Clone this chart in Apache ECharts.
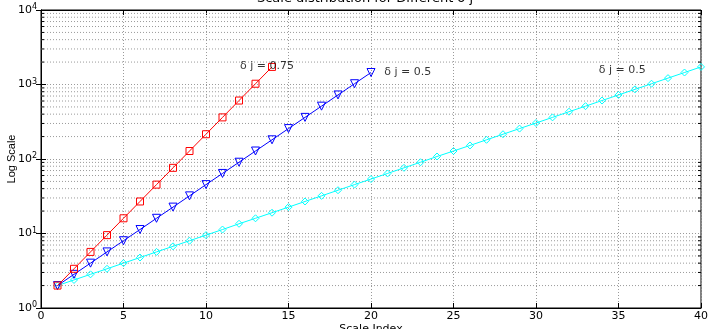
<!DOCTYPE html>
<html><head><meta charset="utf-8">
<script src="https://cdn.jsdelivr.net/npm/echarts@6/dist/echarts.min.js"></script>
<style>html,body{margin:0;padding:0;background:#fff}#c{width:708px;height:329px}</style>
</head><body><div id="c"></div>
<script>
// x indices
const xRed = [1,2,3,4,5,6,7,8,9,10,11,12,13,14];
const yRed = [2,3.36,5.66,9.51,16,26.9,45.3,76.1,128,215,362,609,1024,1722];
const xBlue = [1,2,3,4,5,6,7,8,9,10,11,12,13,14,15,16,17,18,19,20];
const yBlue = [2,2.83,4,5.66,8,11.3,16,22.6,32,45.3,64,90.5,128,181,256,362,512,724,1024,1448];
const xCyan = [1,2,3,4,5,6,7,8,9,10,11,12,13,14,15,16,17,18,19,20,21,22,23,24,25,26,27,28,29,30,31,32,33,34,35,36,37,38,39,40];
const yCyan = [2,2.38,2.83,3.36,4,4.76,5.66,6.73,8,9.51,11.3,13.5,16,19.0,22.6,26.9,32,38.1,45.3,53.8,64,76.1,90.5,108,128,152,181,215,256,304,362,431,512,609,724,861,1024,1218,1448,1722];
const labelTexts = ['δ j = 0.75','δ j = 0.5','δ j = 0.5'];
const labelX = [12.06, 20.8, 33.8];
const labelY = [1770, 1473, 1567];
const minorVals = [2,3,4,5,6,7,8,9,20,30,40,50,60,70,80,90,200,300,400,500,600,700,800,900,2000,3000,4000,5000,6000,7000,8000,9000];
const titleText = 'Scale distribution for Different δ j';

const FONT = 'DejaVu Sans';
const zip = (a,b)=>a.map((v,i)=>[v,b[i]]);
const chart = echarts.init(document.getElementById('c'));
const gridStyle = {type:[1,2], color:'#9a9a9a', width:1};
chart.setOption({
  animation:false,
  graphic:[{type:'text', x:365, y:5, z:10, silent:true,
    style:{text:titleText, align:'center', verticalAlign:'bottom', fontFamily:FONT, fontSize:13, fill:'#000'}}],
  grid:{left:41, right:7, top:10, bottom:21, show:true, borderColor:'#000', borderWidth:1, outerBoundsMode:'none', containLabel:false},
  xAxis:[{type:'value', min:0, max:40, interval:5,
    axisLine:{lineStyle:{color:'#000'}}, axisTick:{inside:true, length:5, lineStyle:{color:'#000'}},
    axisLabel:{fontFamily:FONT, fontSize:11, color:'#000', margin:3},
    splitLine:{show:true, lineStyle:gridStyle},
    name:'Scale Index', nameLocation:'middle', nameGap:16, nameMoveOverlap:false,
    nameTextStyle:{fontFamily:FONT, fontSize:11, color:'#000'}},
    {type:'value', min:0, max:40, interval:5, position:'top',
    axisLine:{lineStyle:{color:'#000'}}, axisTick:{inside:true, length:5, lineStyle:{color:'#000'}},
    axisLabel:{show:false}, splitLine:{show:false}}],
  yAxis:[{type:'log', logBase:10, min:1, max:10000,
    axisLine:{lineStyle:{color:'#000'}}, axisTick:{inside:true, length:5, lineStyle:{color:'#000'}},
    axisLabel:{margin:4, formatter:v=>'{b|10}{s|'+Math.round(Math.log10(v))+'}',
      rich:{b:{fontFamily:FONT, fontSize:11, color:'#000'}, s:{fontFamily:FONT, fontSize:8, color:'#000', verticalAlign:'bottom', padding:[0,0,6,0]}}},
    splitLine:{show:true, lineStyle:gridStyle},
    name:'Log Scale', nameLocation:'middle', nameGap:24, nameRotate:90, nameMoveOverlap:false,
    nameTextStyle:{fontFamily:'Liberation Sans', fontSize:11, color:'#000'}},
    {type:'log', logBase:10, min:1, max:10000, position:'right',
    axisLine:{lineStyle:{color:'#000'}}, axisTick:{inside:true, length:5, lineStyle:{color:'#000'}},
    axisLabel:{show:false}, splitLine:{show:false}}],
  series:[
    {type:'custom', silent:true, z:1, data:minorVals.map(v=>[0,v]),
      renderItem:(params, api)=>{
        const p = api.coord([0, api.value(1)]);
        const cs = params.coordSys;
        const y = p[1];
        return {type:'group', children:[
          {type:'line', shape:{x1:cs.x, y1:y, x2:cs.x+cs.width, y2:y}, style:{stroke:'#9a9a9a', lineWidth:1, lineDash:[1,2]}},
          {type:'line', shape:{x1:cs.x, y1:y, x2:cs.x+3, y2:y}, style:{stroke:'#000', lineWidth:1}},
          {type:'line', shape:{x1:cs.x+cs.width-3, y1:y, x2:cs.x+cs.width, y2:y}, style:{stroke:'#000', lineWidth:1}}
        ]};
      }},
    {type:'line', data:zip(xCyan,yCyan), symbol:'diamond', symbolSize:7, z:3,
      lineStyle:{color:'#00ffff', width:1}, itemStyle:{color:'rgba(0,0,0,0)', borderColor:'#00ffff', borderWidth:1}},
    {type:'line', data:zip(xBlue,yBlue), symbol:'triangle', symbolRotate:180, symbolSize:8, z:4,
      lineStyle:{color:'#0000ff', width:1}, itemStyle:{color:'rgba(0,0,0,0)', borderColor:'#0000ff', borderWidth:1}},
    {type:'line', data:zip(xRed,yRed), symbol:'rect', symbolSize:7, z:5,
      lineStyle:{color:'#ff0000', width:1}, itemStyle:{color:'rgba(0,0,0,0)', borderColor:'#ff0000', borderWidth:1}},
    {type:'scatter', symbolSize:0, z:6, data:labelX.map((x,i)=>({value:[x,labelY[i]], name:labelTexts[i]})),
      label:{show:true, position:'right', distance:0, formatter:'{b}', fontFamily:FONT, fontSize:11, color:'#000'}}
  ]
});
</script></body></html>
